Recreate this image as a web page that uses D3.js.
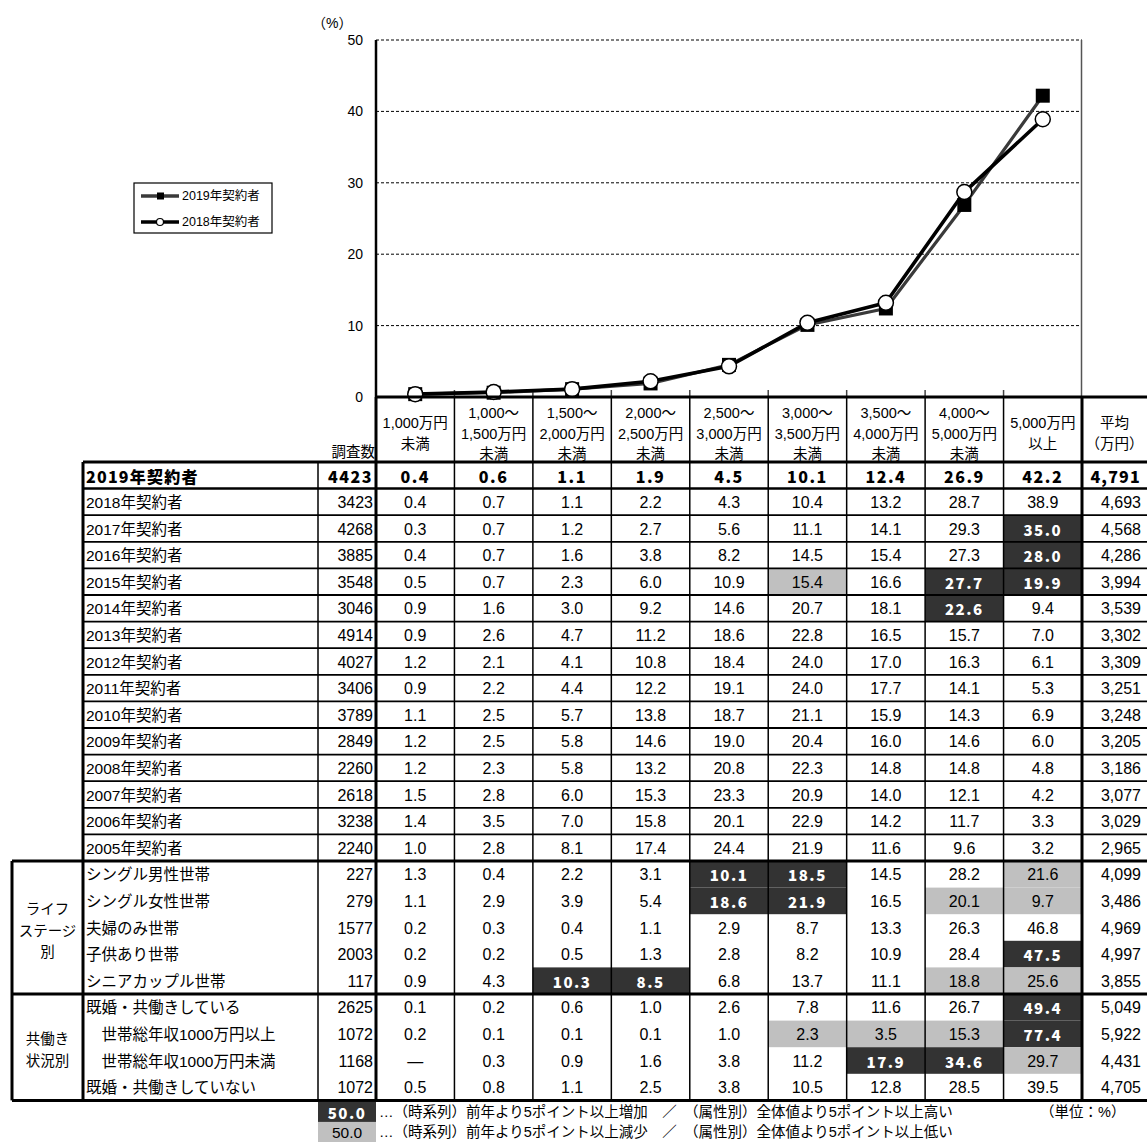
<!DOCTYPE html>
<html><head><meta charset="utf-8">
<script src="https://cdn.jsdelivr.net/npm/d3@7"></script>
<style>body{margin:0;background:#fff}svg{display:block}</style>
</head><body>
<svg id="c" width="1147" height="1142"></svg>
<script>
// ---- data ----
const categoryLabels = [
  ["1,000万円","未満"],
  ["1,000～","1,500万円","未満"],
  ["1,500～","2,000万円","未満"],
  ["2,000～","2,500万円","未満"],
  ["2,500～","3,000万円","未満"],
  ["3,000～","3,500万円","未満"],
  ["3,500～","4,000万円","未満"],
  ["4,000～","5,000万円","未満"],
  ["5,000万円","以上"]
];
const yTicks = [0, 10, 20, 30, 40, 50];
const seriesNames = ["2019年契約者", "2018年契約者"];
const series2019 = [0.4, 0.6, 1.1, 1.9, 4.5, 10.1, 12.4, 26.9, 42.2];
const series2018 = [0.4, 0.7, 1.1, 2.2, 4.3, 10.4, 13.2, 28.7, 38.9];

const rowLabels = [
  "2019年契約者","2018年契約者","2017年契約者","2016年契約者","2015年契約者",
  "2014年契約者","2013年契約者","2012年契約者","2011年契約者","2010年契約者",
  "2009年契約者","2008年契約者","2007年契約者","2006年契約者","2005年契約者",
  "シングル男性世帯","シングル女性世帯","夫婦のみ世帯","子供あり世帯","シニアカップル世帯",
  "既婚・共働きしている","　世帯総年収1000万円以上","　世帯総年収1000万円未満","既婚・共働きしていない"
];
const rowCounts = [4423,3423,4268,3885,3548,3046,4914,4027,3406,3789,2849,2260,2618,3238,2240,
  227,279,1577,2003,117, 2625,1072,1168,1072];
const rowValues = [
  series2019,
  series2018,
  [0.3,0.7,1.2,2.7,5.6,11.1,14.1,29.3,35.0],
  [0.4,0.7,1.6,3.8,8.2,14.5,15.4,27.3,28.0],
  [0.5,0.7,2.3,6.0,10.9,15.4,16.6,27.7,19.9],
  [0.9,1.6,3.0,9.2,14.6,20.7,18.1,22.6,9.4],
  [0.9,2.6,4.7,11.2,18.6,22.8,16.5,15.7,7.0],
  [1.2,2.1,4.1,10.8,18.4,24.0,17.0,16.3,6.1],
  [0.9,2.2,4.4,12.2,19.1,24.0,17.7,14.1,5.3],
  [1.1,2.5,5.7,13.8,18.7,21.1,15.9,14.3,6.9],
  [1.2,2.5,5.8,14.6,19.0,20.4,16.0,14.6,6.0],
  [1.2,2.3,5.8,13.2,20.8,22.3,14.8,14.8,4.8],
  [1.5,2.8,6.0,15.3,23.3,20.9,14.0,12.1,4.2],
  [1.4,3.5,7.0,15.8,20.1,22.9,14.2,11.7,3.3],
  [1.0,2.8,8.1,17.4,24.4,21.9,11.6,9.6,3.2],
  [1.3,0.4,2.2,3.1,10.1,18.5,14.5,28.2,21.6],
  [1.1,2.9,3.9,5.4,18.6,21.9,16.5,20.1,9.7],
  [0.2,0.3,0.4,1.1,2.9,8.7,13.3,26.3,46.8],
  [0.2,0.2,0.5,1.3,2.8,8.2,10.9,28.4,47.5],
  [0.9,4.3,10.3,8.5,6.8,13.7,11.1,18.8,25.6],
  [0.1,0.2,0.6,1.0,2.6,7.8,11.6,26.7,49.4],
  [0.2,0.1,0.1,0.1,1.0,2.3,3.5,15.3,77.4],
  [null,0.3,0.9,1.6,3.8,11.2,17.9,34.6,29.7],
  [0.5,0.8,1.1,2.5,3.8,10.5,12.8,28.5,39.5]
];
const rowAverages = [4791,4693,4568,4286,3994,3539,3302,3309,3251,3248,3205,3186,3077,3029,2965,
  4099,3486,4969,4997,3855, 5049,5922,4431,4705];
// H = 5pt or more above, L = 5pt or more below
const rowMarks = [
  ".........",".........","........H","........H",".....L.HH",".......H.",
  ".........",".........",".........",".........",".........",".........",
  ".........",".........",".........",
  "....HH..L","....HH.LL",".........","........H","..HH...LL",
  "........H",".....LLLH","......HHL","........."
];
const groups = [
  {lines:["ライフ","ステージ","別"], from:15, to:20},
  {lines:["共働き","状況別"], from:20, to:24}
];
const noteHigh = "…（時系列）前年より5ポイント以上増加　／　（属性別）全体値より5ポイント以上高い";
const noteLow  = "…（時系列）前年より5ポイント以上減少　／　（属性別）全体値より5ポイント以上低い";
const unitNote = "（単位：%）";

// ---- styles ----
const FONT = "'Liberation Sans','Noto Sans CJK JP',sans-serif";
const NARROW = "'Liberation Sans Narrow','Liberation Sans','Noto Sans CJK JP',sans-serif";
const BOLDF = "'Noto Sans CJK JP',sans-serif";
const DARK = "#333333", LIGHT = "#c0c0c0";

const svg = d3.select("#c");
const x = d3.scaleBand().domain(d3.range(categoryLabels.length)).range([376, 1082]);
const y = d3.scaleLinear().domain([0, 50]).range([397, 40]);
const cx = i => x(i) + x.bandwidth() / 2;

// ---- line chart ----
const plot = svg.append("g");
plot.selectAll("line.grid").data(yTicks.filter(d => d > 0)).join("line")
  .attr("x1", 376).attr("x2", 1082).attr("y1", d => y(d)).attr("y2", d => y(d))
  .attr("stroke", "#000").attr("stroke-width", 1).attr("stroke-dasharray", "3,2");
plot.append("line").attr("x1", 1081.5).attr("x2", 1081.5).attr("y1", y(50)).attr("y2", y(0))
  .attr("stroke", "#555").attr("stroke-width", 1.5);

const yAxis = plot.append("g").attr("transform", "translate(376,0)")
  .call(d3.axisLeft(y).tickValues(yTicks).tickSize(0).tickPadding(13));
yAxis.select(".domain").remove();
yAxis.attr("font-size", 14).attr("font-family", FONT);
yAxis.selectAll("text").attr("fill", "#000");

// small category ticks on the x axis
plot.selectAll("line.xt").data(d3.range(1, categoryLabels.length)).join("line")
  .attr("x1", d => x(d)).attr("x2", d => x(d)).attr("y1", y(0) - 7).attr("y2", y(0))
  .attr("stroke", "#444").attr("stroke-width", 1.5);

plot.append("text").attr("x", 312).attr("y", 23).attr("font-family", FONT).attr("font-size", 14)
  .attr("dominant-baseline", "central").text("（%）");

const line = d3.line().x((d, i) => cx(i)).y(d => y(d));
// 2019 series
plot.append("path").datum(series2019).attr("d", line).attr("fill", "none")
  .attr("stroke", "#3a3a3a").attr("stroke-width", 3.2).attr("stroke-linejoin", "round");
plot.selectAll("rect.m19").data(series2019).join("rect")
  .attr("x", (d, i) => cx(i) - 7).attr("y", d => y(d) - 7).attr("width", 14).attr("height", 14)
  .attr("fill", "#000");
// 2018 series
plot.append("path").datum(series2018).attr("d", line).attr("fill", "none")
  .attr("stroke", "#000").attr("stroke-width", 3.6).attr("stroke-linejoin", "round");
plot.selectAll("circle.m18").data(series2018).join("circle")
  .attr("cx", (d, i) => cx(i)).attr("cy", d => y(d)).attr("r", 7.5)
  .attr("fill", "#fff").attr("stroke", "#000").attr("stroke-width", 1.5);

// axis line (continues as table border)
plot.append("line").attr("x1", 376).attr("x2", 376).attr("y1", y(50)).attr("y2", y(0))
  .attr("stroke", "#000").attr("stroke-width", 2.5);

// legend
const lg = svg.append("g");
lg.append("rect").attr("x", 134).attr("y", 183).attr("width", 138).attr("height", 50)
  .attr("fill", "#fff").attr("stroke", "#000").attr("stroke-width", 1.2);
seriesNames.forEach((name, k) => {
  const ly = 196 + k * 26;
  lg.append("line").attr("x1", 141).attr("x2", 179).attr("y1", ly).attr("y2", ly)
    .attr("stroke", k === 0 ? "#3a3a3a" : "#000").attr("stroke-width", 3.5);
  if (k === 0) lg.append("rect").attr("x", 157).attr("y", ly - 3.5).attr("width", 7).attr("height", 7).attr("fill", "#000");
  else lg.append("circle").attr("cx", 160).attr("cy", ly).attr("r", 3.5).attr("fill", "#fff").attr("stroke", "#000").attr("stroke-width", 1.2);
  lg.append("text").attr("x", 182).attr("y", ly).attr("dominant-baseline", "central")
    .attr("font-family", FONT).attr("font-size", 12.5).text(name);
});

// ---- table ----
const T = svg.append("g");
const tableTop = 462, rowH = 26.6, headTop = 397;
const xGroup = 12, xLabel = 83, xCount = 318, xAvg = 1082, xRight = 1147;
const rowY = i => tableTop + i * rowH;
const tableBottom = rowY(rowLabels.length);

// header texts
categoryLabels.forEach((lines, j) => {
  const start = lines.length === 3 ? 413 : 423;
  lines.forEach((s, k) => {
    T.append("text").attr("x", cx(j)).attr("y", start + k * 20.5).attr("text-anchor", "middle")
      .attr("dominant-baseline", "central").attr("font-family", FONT).attr("font-size", 14.5).text(s);
  });
});
[["平均", 423], ["（万円）", 443.5]].forEach(([s, yy]) => {
  T.append("text").attr("x", (xAvg + xRight) / 2).attr("y", yy).attr("text-anchor", "middle")
    .attr("dominant-baseline", "central").attr("font-family", FONT).attr("font-size", 14.5).text(s);
});
T.append("text").attr("x", 375).attr("y", 452).attr("text-anchor", "end")
  .attr("dominant-baseline", "central").attr("font-family", FONT).attr("font-size", 14.5).text("調査数");

// shaded cells
rowMarks.forEach((m, i) => {
  [...m].forEach((c, j) => {
    if (c === ".") return;
    T.append("rect").attr("x", x(j)).attr("y", rowY(i)).attr("width", x.bandwidth()).attr("height", rowH)
      .attr("fill", c === "H" ? DARK : LIGHT);
  });
});

// row texts
const fmt1 = d3.format(".1f"), fmtAvg = d3.format(",");
rowLabels.forEach((lab, i) => {
  const yc = rowY(i) + rowH / 2 + 0.5;
  const bold = i === 0;
  const txt = (xx, s, anchor, opt = {}) => {
    const t = T.append("text").attr("x", xx).attr("y", yc).attr("text-anchor", anchor)
      .attr("dominant-baseline", "central").text(s);
    if (opt.bold) t.attr("font-family", BOLDF).attr("font-weight", 900).attr("font-size", opt.size || 16)
      .attr("letter-spacing", opt.ls == null ? 1.5 : opt.ls).attr("fill", opt.fill || "#000");
    else t.attr("font-family", opt.fam || NARROW).attr("font-size", opt.size || 16).attr("fill", opt.fill || "#000");
    return t;
  };
  txt(86, lab, "start", bold ? {bold: true, size: 16, ls: 1.2} : {fam: NARROW, size: 15.5});
  txt(373, rowCounts[i], "end", bold ? {bold: true, size: 16, ls: 1.5} : {});
  rowValues[i].forEach((v, j) => {
    const mark = rowMarks[i][j];
    const s = v == null ? "—" : fmt1(v);
    if (bold) txt(cx(j), s, "middle", {bold: true, size: 16});
    else if (mark === "H") txt(cx(j), s, "middle", {bold: true, size: 15, fill: "#fff"});
    else txt(cx(j), s, "middle", {});
  });
  txt(1141, fmtAvg(rowAverages[i]), "end", bold ? {bold: true, size: 16, ls: 1.2} : {});
});

// group labels
groups.forEach(g => {
  const mid = (rowY(g.from) + rowY(g.to)) / 2 + 3;
  const n = g.lines.length;
  g.lines.forEach((s, k) => {
    T.append("text").attr("x", (xGroup + xLabel) / 2).attr("y", mid + (k - (n - 1) / 2) * 21.5)
      .attr("text-anchor", "middle").attr("dominant-baseline", "central")
      .attr("font-family", FONT).attr("font-size", 14.5).text(s);
  });
});

// grid lines of the table
const hl = (x1, x2, yy, w) => T.append("line").attr("x1", x1).attr("x2", x2).attr("y1", yy).attr("y2", yy)
  .attr("stroke", "#000").attr("stroke-width", w);
const vl = (xx, y1, y2, w) => T.append("line").attr("x1", xx).attr("x2", xx).attr("y1", y1).attr("y2", y2)
  .attr("stroke", "#000").attr("stroke-width", w);

// horizontal lines inside the time-series block
for (let i = 1; i < 15; i++) hl(xLabel, xRight, rowY(i), i === 1 ? 2.5 : 1.8);
// header: top axis line and bottom line
hl(376, xRight, headTop, 3);
hl(xLabel, xRight, tableTop, 3);
// section borders
hl(xGroup, xRight, rowY(15), 3);
hl(xGroup, xRight, rowY(20), 3);
hl(xGroup, xRight, tableBottom, 3);
// verticals
vl(xGroup, rowY(15), tableBottom, 3);
vl(xLabel, tableTop, tableBottom, 3);
vl(xCount, tableTop, tableBottom, 1.5);
vl(376, headTop, tableBottom, 3);
for (let j = 1; j < categoryLabels.length; j++) vl(x(j), headTop, tableBottom, 1.5);
vl(xAvg, headTop, tableBottom, 3);

// ---- notes below the table ----
const noteTop = tableBottom + 1.5, noteH = (1142 - noteTop) / 2;
[[DARK, "#fff", noteHigh, true], [LIGHT, "#000", noteLow, false]].forEach(([bg, fg, text, b], k) => {
  const yy = noteTop + k * noteH;
  T.append("rect").attr("x", xCount).attr("y", yy).attr("width", 376 - xCount).attr("height", noteH).attr("fill", bg);
  const t = T.append("text").attr("x", 347).attr("y", yy + noteH / 2 + 0.5).attr("text-anchor", "middle")
    .attr("dominant-baseline", "central").attr("fill", fg).text("50.0");
  if (b) t.attr("font-family", BOLDF).attr("font-weight", 900).attr("font-size", 15).attr("letter-spacing", 1.5);
  else t.attr("font-family", NARROW).attr("font-size", 15.5);
  T.append("text").attr("x", 379).attr("y", yy + noteH / 2 + 0.5).attr("dominant-baseline", "central")
    .attr("font-family", NARROW).attr("font-size", 14.5).text(text);
});
T.append("text").attr("x", 1040).attr("y", noteTop + noteH / 2 + 0.5).attr("dominant-baseline", "central")
  .attr("font-family", NARROW).attr("font-size", 14.5).text(unitNote);
</script>
</body></html>
